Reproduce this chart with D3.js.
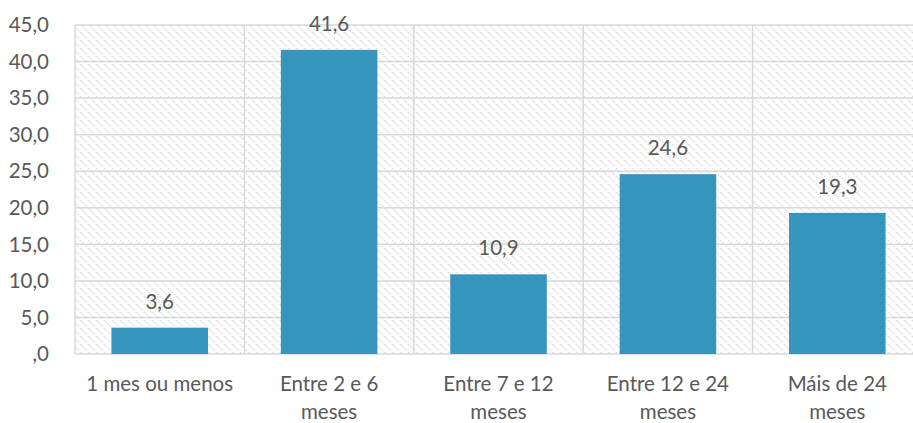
<!DOCTYPE html>
<html>
<head>
<meta charset="utf-8">
<script src="https://cdn.jsdelivr.net/npm/d3@7"></script>
<style>
  body { margin: 0; background: #fff; overflow: hidden; }
  text { font-family: Lato, "Open Sans", sans-serif; fill: #595959; }
</style>
</head>
<body>
<div id="chart"></div>
<script>
// Data.
const categories = [["1 mes ou menos"], ["Entre 2 e 6", "meses"], ["Entre 7 e 12", "meses"], ["Entre 12 e 24", "meses"], ["Máis de 24", "meses"]];
const values = [3.6, 41.6, 10.9, 24.6, 19.3];
const yTicks = [0, 5, 10, 15, 20, 25, 30, 35, 40, 45];

const WIDTH = 913;
const HEIGHT = 423;
const PLOT = {'left': 75, 'right': 922, 'top': 25, 'bottom': 354};
const FONT = "20.5px";

const fmt = function(v) {
    var s = d3.format(".1f")(v).replace(".", ",");
    return s === "0,0" ? ",0" : s;
};

var svg = d3.select("#chart").append("svg")
    .attr("width", WIDTH)
    .attr("height", HEIGHT);

// Hatch pattern.
var pat = svg.append("defs").append("pattern")
    .attr("id", "hatch")
    .attr("patternUnits", "userSpaceOnUse")
    .attr("width", 8)
    .attr("height", 8);
pat.append("path")
    .attr("d", "M-2,-2 L10,10 M-2,6 L2,10 M6,-2 L10,2")
    .attr("stroke", "#dddddd")
    .attr("stroke-width", 1.7)
    .attr("stroke-dasharray", "1.5,1.3");

var x = d3.scaleBand()
    .domain(d3.range(categories.length))
    .range([PLOT.left, PLOT.right])
    .paddingInner(0.43)
    .paddingOuter(0.215);

var y = d3.scaleLinear()
    .domain([0, 45])
    .range([PLOT.bottom, PLOT.top]);

var step = (PLOT.right - PLOT.left) / categories.length;

svg.append("rect")
    .attr("x", PLOT.left)
    .attr("y", PLOT.top)
    .attr("width", PLOT.right - PLOT.left)
    .attr("height", PLOT.bottom - PLOT.top)
    .attr("fill", "url(#hatch)");

// Grid.
svg.append("g").selectAll("line")
    .data(yTicks)
    .enter()
    .append("line")
    .attr("x1", PLOT.left)
    .attr("x2", PLOT.right)
    .attr("y1", d => y(d))
    .attr("y2", d => y(d))
    .attr("stroke", "#d9d9d9")
    .attr("stroke-width", 1.5);

svg.append("g").selectAll("line")
    .data(d3.range(categories.length + 1))
    .enter()
    .append("line")
    .attr("x1", d => PLOT.left + d * step)
    .attr("x2", d => PLOT.left + d * step)
    .attr("y1", PLOT.top)
    .attr("y2", PLOT.bottom)
    .attr("stroke", "#d9d9d9")
    .attr("stroke-width", 1.5);

// Y labels.
svg.append("g").selectAll("text")
    .data(yTicks)
    .enter()
    .append("text")
    .attr("x", 49)
    .attr("y", d => y(d))
    .attr("dy", "0.35em")
    .attr("text-anchor", "end")
    .attr("font-size", FONT)
    .text(fmt);

// Bars.
svg.append("g").selectAll("rect")
    .data(values)
    .enter()
    .append("rect")
    .attr("x", (d, i) => x(i))
    .attr("width", x.bandwidth())
    .attr("y", d => y(d))
    .attr("height", d => y(0) - y(d))
    .attr("fill", "#3595bc");

// Value labels.
svg.append("g").selectAll("text")
    .data(values)
    .enter()
    .append("text")
    .attr("x", (d, i) => x(i) + x.bandwidth() / 2)
    .attr("y", d => y(d) - 19)
    .attr("text-anchor", "middle")
    .attr("font-size", FONT)
    .text(fmt);

// Category labels.
var cat = svg.append("g").selectAll("text")
    .data(categories)
    .enter()
    .append("text")
    .attr("text-anchor", "middle")
    .attr("font-size", FONT);

cat.selectAll("tspan")
    .data((d, i) => d.map(function(t, j) { return {t: t, i: i, j: j}; }))
    .enter()
    .append("tspan")
    .attr("x", d => x(d.i) + x.bandwidth() / 2)
    .attr("y", d => 391 + d.j * 28)
    .text(d => d.t);
</script>
</body>
</html>
